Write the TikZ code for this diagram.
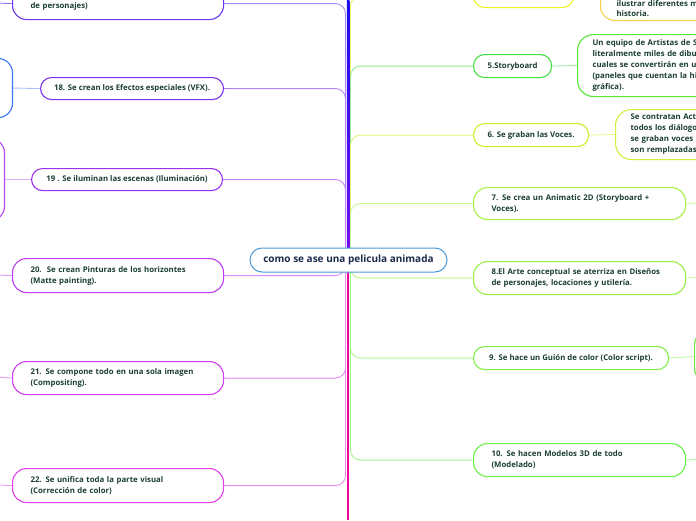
\documentclass[tikz,border=0pt]{standalone}
\usepackage{fontspec}
\setmainfont{Open Sans}
\usetikzlibrary{backgrounds}
\definecolor{txtc}{HTML}{1B3F30}
\definecolor{rootc}{HTML}{1C2A4C}
\definecolor{rootb}{HTML}{4A9AD8}
\definecolor{spT}{HTML}{1A0CF2}
\definecolor{spM}{HTML}{7010F0}
\definecolor{spL}{HTML}{F0089C}
\definecolor{cL17}{HTML}{6A3AF0}
\definecolor{cL18}{HTML}{7C34F0}
\definecolor{cL19}{HTML}{9A30F0}
\definecolor{cL20}{HTML}{C03CF0}
\definecolor{cL21}{HTML}{D03EF0}
\definecolor{cL22}{HTML}{E040E8}
\definecolor{cB1}{HTML}{3A78F0}
\definecolor{cB2}{HTML}{B848F0}
\definecolor{cR4}{HTML}{F0F028}
\definecolor{cR4b}{HTML}{F8D048}
\definecolor{cR5}{HTML}{44E044}
\definecolor{cR5b}{HTML}{58E838}
\definecolor{cR6}{HTML}{C8F028}
\definecolor{cR6b}{HTML}{D0F040}
\definecolor{cR7}{HTML}{A8F048}
\definecolor{cR8}{HTML}{98F048}
\definecolor{cR9}{HTML}{80F048}
\definecolor{cR9b}{HTML}{70E848}
\definecolor{cR10}{HTML}{68F048}
\tikzset{
  mbox/.style={draw, rounded corners=11pt, line width=1.1pt, fill=white, text=txtc,
    font=\bfseries\fontsize{7.8}{11}\selectfont, inner sep=0pt},
  twol/.style={mbox, rounded corners=14pt, align=left, inner xsep=18pt, anchor=north west},
  onel/.style={mbox, anchor=north west, align=center},
  conn/.style={line width=0.9pt, rounded corners=10pt},
}
\begin{document}
\begin{tikzpicture}[x=1pt,y=-1pt]
\clip (0,0) rectangle (696,520);
\coordinate (sL) at (345.5,260);
\coordinate (sR) at (350.5,260);
% left main nodes
\node[twol, draw=cL17, text width=175pt, minimum height=32pt] (n17) at (12,-13) {\mbox{}\\de personajes)};
\node[onel, draw=cL18, minimum width=183pt, minimum height=22pt] (n18) at (40,77) {18. Se crean los Efectos especiales (VFX).};
\node[onel, draw=cL19, minimum width=191pt, minimum height=22pt] (n19) at (31,168) {19 . Se iluminan las escenas (Iluminación)};
\node[twol, draw=cL20, text width=175pt, minimum height=34pt] (n20) at (12,258) {20.\ \ Se crean Pinturas de los horizontes\\(Matte painting).};
\node[twol, draw=cL21, text width=175pt, minimum height=33pt] (n21) at (12,361) {21. Se compone todo en una sola imagen\\(Compositing).};
\node[twol, draw=cL22, text width=175pt, minimum height=34pt] (n22) at (12,468) {22. Se unifica toda la parte visual\\(Corrección de color)};
% far left boxes
\node[mbox, draw=cB1, rounded corners=14pt, minimum width=70pt, minimum height=59pt, anchor=north east] (b18) at (13,58) {};
\node[mbox, draw=cB2, rounded corners=14pt, minimum width=70pt, minimum height=82pt, anchor=north east] (b19) at (5,138) {};
% right main nodes
\node[onel, draw=cR4, minimum width=100pt, minimum height=23pt] (n4) at (473,-16) {};
\node[mbox, draw=cR4b, rounded corners=14pt, align=left, inner xsep=16pt, inner ysep=4pt, text width=150pt, anchor=south west, font=\bfseries\fontsize{7.8}{9.5}\selectfont] (n4b) at (600,21) {\mbox{}\\\mbox{}\\ilustrar diferentes m\\historia.};
\node[onel, draw=cR5, minimum width=78pt, minimum height=23pt] (n5) at (473,54) {5.Storyboard};
\node[mbox, draw=cR5b, rounded corners=16pt, align=left, inner xsep=15pt, text width=160pt, minimum height=62pt, anchor=north west] (n5b) at (577,34) {Un equipo de Artistas de S\\literalmente miles de dibu\\cuales se convertirán en u\\(paneles que cuentan la hi\\gráfica).};
\node[onel, draw=cR6, minimum width=115pt, minimum height=23pt] (n6) at (473,123) {6. Se graban las Voces.};
\node[mbox, draw=cR6b, rounded corners=16pt, align=left, inner xsep=15pt, text width=130pt, minimum height=50pt, anchor=north west] (n6b) at (615,109) {Se contratan Act\\todos los diálogo\\se graban voces\\son remplazadas};
\node[twol, draw=cR7, text width=176pt, minimum height=32pt] (n7) at (473,187) {7. Se crea un Animatic 2D (Storyboard +\\Voces).};
\node[twol, draw=cR8, text width=176pt, minimum height=33pt] (n8) at (473,261) {8.El Arte conceptual se aterriza en Diseños\\de personajes, locaciones y utilería.};
\node[onel, draw=cR9, minimum width=195pt, minimum height=23pt] (n9) at (473,346) {9. Se hace un Guión de color (Color script).};
\node[mbox, draw=cR9b, rounded corners=14pt, minimum width=70pt, minimum height=52pt, anchor=north west] (n9b) at (694,330) {};
\node[twol, draw=cR10, text width=176pt, minimum height=33pt] (n10) at (473,443) {10. Se hacen Modelos 3D de todo\\(Modelado)};
% root
\node[draw=rootb, fill=white, rounded corners=12pt, line width=1pt, minimum width=197pt, minimum height=24pt, inner sep=0pt, text=rootc, font=\bfseries\fontsize{10}{12}\selectfont] (root) at (348.5,260) {como se ase una pelicula animada};
% free ends
\coordinate (e17) at (-5,3);
\coordinate (e20) at (-5,275);
\coordinate (e21) at (-5,377);
\coordinate (e22) at (-5,485);
\coordinate (e7) at (700,203);
\coordinate (e8) at (700,277);
\coordinate (e10) at (700,459);
\begin{scope}[on background layer]
\fill[white] (0,0) rectangle (696,520);
\draw[conn, draw=cL17!60!white] (n17.east) -- (n17.east -| sL) -- (sL);
\draw[conn, draw=cL18!60!white] (n18.east) -- (n18.east -| sL) -- (sL);
\draw[conn, draw=cL19!60!white] (n19.east) -- (n19.east -| sL) -- (sL);
\draw[conn, draw=cL20!60!white] (n20.east) -- (n20.east -| sL) -- (sL);
\draw[conn, draw=cL21!60!white] (n21.east) -- (n21.east -| sL) -- (sL);
\draw[conn, draw=cL22!60!white] (n22.east) -- (n22.east -| sL) -- (sL);
\draw[conn, draw=cR4!70!white] (sR) -- (sR |- n4.west) -- (n4.west);
\draw[conn, draw=cR5!60!white] (sR) -- (sR |- n5.west) -- (n5.west);
\draw[conn, draw=cR6!60!white] (sR) -- (sR |- n6.west) -- (n6.west);
\draw[conn, draw=cR7!60!white] (sR) -- (sR |- n7.west) -- (n7.west);
\draw[conn, draw=cR8!60!white] (sR) -- (sR |- n8.west) -- (n8.west);
\draw[conn, draw=cR9!60!white] (sR) -- (sR |- n9.west) -- (n9.west);
\draw[conn, draw=cR10!60!white] (sR) -- (sR |- n10.west) -- (n10.west);
\draw[conn, draw=cL17!70!white] (n17.west) -- (e17);
\draw[conn, draw=cB1!45!white] (b18.east) -- (n18.west);
\draw[conn, draw=cB2!45!white] (b19.east) -- (n19.west);
\draw[conn, draw=cL20!50!white] (n20.west) -- (e20);
\draw[conn, draw=cL21!50!white] (n21.west) -- (e21);
\draw[conn, draw=cL22!50!white] (n22.west) -- (e22);
\draw[conn, draw=cR5!50!white] (n5.east) -- (n5b.west);
\draw[conn, draw=cR6!50!white] (n6.east) -- (n6b.west);
\draw[conn, draw=cR7!50!white] (n7.east) -- (e7);
\draw[conn, draw=cR8!50!white] (n8.east) -- (e8);
\draw[conn, draw=cR9!50!white] (n9.east) -- (n9b.west);
\draw[conn, draw=cR10!50!white] (n10.east) -- (e10);
\shade[top color=spT, bottom color=spM] (346.8,0) rectangle (349.4,250);
\fill[spL] (346.8,270) rectangle (349.4,520);
\end{scope}
\end{tikzpicture}
\end{document}
